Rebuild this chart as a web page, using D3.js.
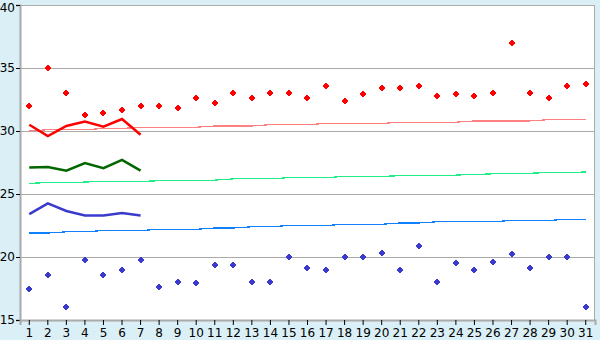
<!DOCTYPE html>
<html>
<head>
<meta charset="utf-8">
<script src="https://cdn.jsdelivr.net/npm/d3@7"></script>
<style>
  body { margin: 0; background: #daeff6; }
  text { font-family: "DejaVu Sans", sans-serif; font-size: 12px; fill: #000; }
</style>
</head>
<body>
<svg id="plotarea"></svg>
<script>
var days = d3.range(1, 32);
var yTicks = [15, 20, 25, 30, 35, 40];

// daily maxima / minima (points)
var maxTemp = [32.0, 35.0, 33.0, 31.3, 31.4, 31.7, 32.0, 32.0, 31.8, 32.6, 32.2, 33.0, 32.6, 33.0, 33.0, 32.6,
    33.55, 32.4, 32.9, 33.4, 33.4, 33.6, 32.8, 32.9, 32.75, 33.0, 37.0, 33.0, 32.6, 33.55, 33.7];
var minTemp = [17.5, 18.55, 16.0, 19.8, 18.55, 19.0, 19.75, 17.6, 18.0, 17.9, 19.4, 19.4, 18.0, 18.0, 20.0, 19.1,
    19.0, 20.0, 20.0, 20.3, 19.0, 20.85, 18.0, 19.5, 19.0, 19.6, 20.2, 19.1, 20.0, 20.0, 16.0];

// first week lines
var maxWeek = [30.5, 29.6, 30.4, 30.75, 30.35, 30.95, 29.7];
var meanWeek = [27.1, 27.15, 26.85, 27.45, 27.05, 27.7, 26.85];
var minWeek = [23.4, 24.25, 23.65, 23.3, 23.3, 23.5, 23.3];

// normals
var maxNormal = [30.0, 30.1, 30.1, 30.1, 30.2, 30.2, 30.3, 30.3, 30.3, 30.3, 30.4, 30.4, 30.4, 30.5, 30.5, 30.5,
    30.6, 30.6, 30.6, 30.6, 30.7, 30.7, 30.7, 30.7, 30.8, 30.8, 30.8, 30.8, 30.9, 30.9, 30.9];
var meanNormal = [25.85, 25.9, 25.9, 25.95, 26.0, 26.0, 26.0, 26.05, 26.1, 26.1, 26.1, 26.2, 26.2, 26.2, 26.3, 26.3,
    26.3, 26.4, 26.4, 26.4, 26.45, 26.5, 26.5, 26.5, 26.55, 26.6, 26.6, 26.65, 26.7, 26.7, 26.75];
var minNormal = [21.9, 21.9, 22.0, 22.0, 22.1, 22.1, 22.1, 22.2, 22.2, 22.2, 22.3, 22.3, 22.4, 22.4, 22.5, 22.5,
    22.5, 22.6, 22.6, 22.6, 22.7, 22.7, 22.8, 22.8, 22.8, 22.8, 22.9, 22.9, 22.9, 23.0, 23.0];

var margin = {top: 5, right: 5, bottom: 20, left: 20};
var width = 600 - margin.left - margin.right;
var height = 340 - margin.top - margin.bottom;

var svg = d3.select("#plotarea")
    .attr("width", 600)
    .attr("height", 340);

var g = svg.append("g")
    .attr("transform", "translate(" + margin.left + "," + margin.top + ")");

var x = d3.scaleBand().domain(days).range([0, width]);
var y = d3.scaleLinear().domain([15, 40]).range([height, 0]);
var cx = function (d) { return x(d) + x.bandwidth() / 2; };

// plot background
g.append("rect")
    .attr("width", width)
    .attr("height", height)
    .style("fill", "white");

// grid lines
g.selectAll(".grid")
    .data(yTicks)
    .enter()
    .append("line")
    .attr("x1", 0)
    .attr("x2", width)
    .attr("y1", function (d) { return Math.round(y(d)) + 0.5; })
    .attr("y2", function (d) { return Math.round(y(d)) + 0.5; })
    .style("stroke", "#aaaaaa");

// right border
g.append("line")
    .attr("x1", width - 0.5).attr("x2", width - 0.5)
    .attr("y1", 0).attr("y2", height)
    .style("stroke", "#aaaaaa");

// axes
var yAxis = g.append("g")
    .call(d3.axisLeft(y).tickValues(yTicks).tickSize(4).tickPadding(1));
var xAxis = g.append("g")
    .attr("transform", "translate(0," + height + ")")
    .call(d3.axisBottom(x).tickSize(5).tickPadding(3));
[xAxis, yAxis].forEach(function (a) {
    a.select(".domain").style("stroke", "#aaaaaa").style("stroke-width", 2);
    a.selectAll(".tick line").style("stroke", "#000");
    a.selectAll("text").style("font-family", "DejaVu Sans").style("font-size", "12px");
});
// keep the top label inside the window
yAxis.selectAll(".tick text")
    .filter(function (d) { return d == 40; })
    .attr("dy", "0.5em");

// normal lines
var normals = [
    {values: maxNormal, color: "#ff8080"},
    {values: meanNormal, color: "#22ee88"},
    {values: minNormal, color: "#1080ff"}
];
var line = d3.line()
    .x(function (d, i) { return cx(days[i]); })
    .y(function (d) { return y(d); });

g.selectAll(".normal")
    .data(normals)
    .enter()
    .append("path")
    .attr("d", function (d) { return line(d.values); })
    .attr("fill", "none")
    .attr("stroke", function (d) { return d.color; })
    .attr("stroke-width", 1.2)
    .attr("shape-rendering", "crispEdges");

// first week lines
var weeks = [
    {values: maxWeek, color: "#ff0000"},
    {values: meanWeek, color: "#006600"},
    {values: minWeek, color: "#3a3acc"}
];
g.selectAll(".week")
    .data(weeks)
    .enter()
    .append("path")
    .attr("d", function (d) { return line(d.values); })
    .attr("fill", "none")
    .attr("stroke", function (d) { return d.color; })
    .attr("stroke-width", 2.5);

// point markers (small rounded crosses)
var cross = "M-1,-3h2v1h1v1h1v2h-1v1h-1v1h-2v-1h-1v-1h-1v-2h1v-1h1z";
var points = [
    {values: maxTemp, color: "#ff0000"},
    {values: minTemp, color: "#3a3acc"}
];
points.forEach(function (s) {
    g.selectAll(null)
        .data(s.values)
        .enter()
        .append("path")
        .attr("d", cross)
        .attr("transform", function (d, i) {
            return "translate(" + Math.round(cx(days[i])) + "," + Math.round(y(d)) + ")";
        })
        .style("fill", s.color);
});
</script>
</body>
</html>
